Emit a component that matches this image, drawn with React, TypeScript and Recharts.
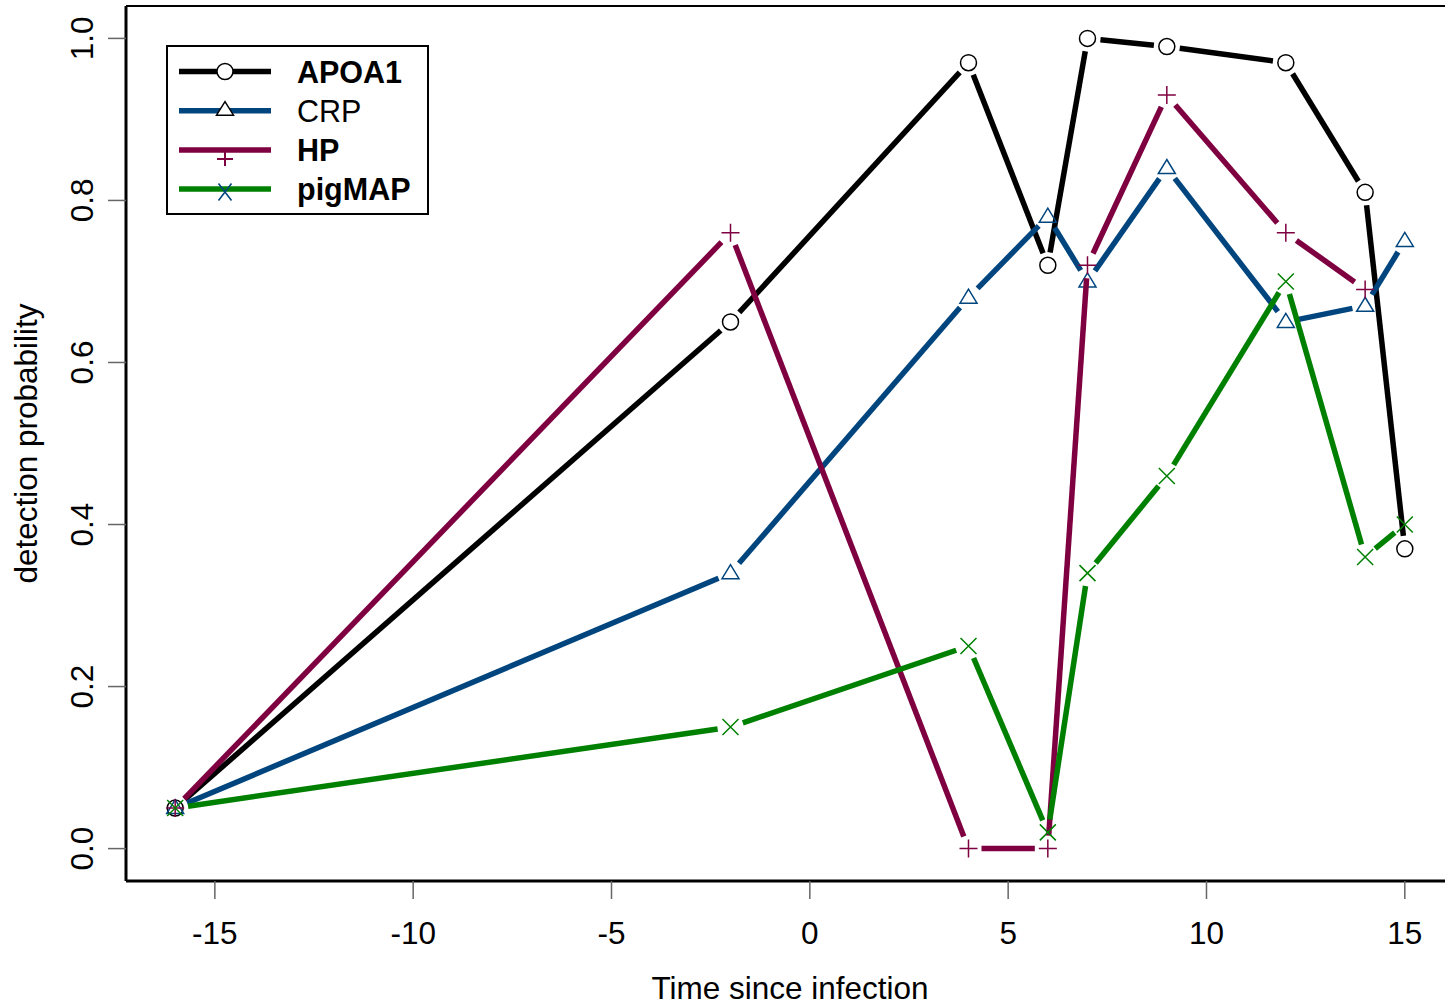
import React from 'react';
import { LineChart, Line, XAxis, YAxis, ReferenceLine } from 'recharts';

// ---- data ----
const times = [-16, -2, 4, 6, 7, 9, 12, 14, 15];
const apoa1 = [0.05, 0.65, 0.97, 0.72, 1.0, 0.99, 0.97, 0.81, 0.37];
const crp = [0.05, 0.34, 0.68, 0.78, 0.7, 0.84, 0.65, 0.67, 0.75];
const hp: (number | null)[] = [0.05, 0.76, 0.0, 0.0, 0.72, 0.93, 0.76, 0.69, null];
const pigmap = [0.05, 0.15, 0.25, 0.02, 0.34, 0.46, 0.7, 0.36, 0.4];

const xTicks = [-15, -10, -5, 0, 5, 10, 15];
const yTicks = [0, 0.2, 0.4, 0.6, 0.8, 1.0];
const xDomain = [-17.24, 16.24];
const yDomain = [-0.04, 1.04];

const seriesNames = ['APOA1', 'CRP', 'HP', 'pigMAP'];
const seriesValues = [apoa1, crp, hp, pigmap];
const seriesColors = ['#000000', '#00457e', '#7f0040', '#008000'];
const seriesMarkers = ['circle', 'triangle', 'plus', 'cross'];
const seriesBold = [true, false, true, true];

const xLabel = 'Time since infection';
const yLabel = 'detection probability';

const data = times.map((t, i) => {
  const row: any = { t };
  seriesNames.forEach((n, k) => {
    row[n] = seriesValues[k][i];
  });
  return row;
});

const FONT = '"Liberation Sans", Arial, Helvetica, sans-serif';
const FS = 31.5;
const LFS = 30.5;
const GAP = 13;
const LW = 5.5;

function Marker({ type, x, y, color, fill = 'none', sw = 1.5 }: any) {
  if (type === 'circle') return <circle cx={x} cy={y} r={8} fill={fill} stroke={color} strokeWidth={sw} />;
  if (type === 'triangle')
    return (
      <polygon
        points={`${x},${y - 8.5} ${x - 8.5},${y + 5.5} ${x + 8.5},${y + 5.5}`}
        fill={fill}
        stroke={color}
        strokeWidth={sw}
      />
    );
  if (type === 'plus')
    return <path d={`M${x - 9},${y}H${x + 9}M${x},${y - 9}V${y + 9}`} stroke={color} strokeWidth={sw} fill="none" />;
  return (
    <path
      d={`M${x - 8},${y - 8}L${x + 8},${y + 8}M${x - 8},${y + 8}L${x + 8},${y - 8}`}
      stroke={color}
      strokeWidth={sw}
      fill="none"
    />
  );
}

const cache: Record<string, ({ x: number; y: number } | null)[]> = {};

function makeDot(k: number) {
  const name = seriesNames[k];
  const vals = seriesValues[k];
  let lastIdx = 0;
  vals.forEach((v, i) => {
    if (v !== null && v !== undefined) lastIdx = i;
  });
  return (props: any) => {
    const { cx, cy, index } = props;
    if (index === 0 || !cache[name]) cache[name] = [];
    const valid =
      typeof cx === 'number' && typeof cy === 'number' && isFinite(cx) && isFinite(cy) && vals[index] != null;
    cache[name][index] = valid ? { x: cx, y: cy } : null;
    if (index !== lastIdx) return <g key={`d-${name}-${index}`} />;
    let pts: ({ x: number; y: number } | null)[] = cache[name];
    if (Array.isArray(props.points) && props.points.length === vals.length) {
      pts = props.points.map((p: any, i: number) =>
        vals[i] != null && p && typeof p.y === 'number' && isFinite(p.y) ? { x: p.x, y: p.y } : null
      );
    }
    const segs: any[] = [];
    for (let i = 0; i < pts.length - 1; i++) {
      const a = pts[i];
      const b = pts[i + 1];
      if (!a || !b) continue;
      const dx = b.x - a.x;
      const dy = b.y - a.y;
      const len = Math.sqrt(dx * dx + dy * dy);
      if (len <= 2 * GAP) continue;
      const ux = dx / len;
      const uy = dy / len;
      segs.push(
        <line
          key={`s-${i}`}
          x1={a.x + ux * GAP}
          y1={a.y + uy * GAP}
          x2={b.x - ux * GAP}
          y2={b.y - uy * GAP}
          stroke={seriesColors[k]}
          strokeWidth={LW}
          strokeLinecap="butt"
        />
      );
    }
    const marks = pts.map((p, i) =>
      p ? <Marker key={`m-${i}`} type={seriesMarkers[k]} x={p.x} y={p.y} color={seriesColors[k]} /> : null
    );
    return (
      <g key={`d-${name}-${index}`}>
        {segs}
        {marks}
      </g>
    );
  };
}

const dots = seriesNames.map((_, k) => makeDot(k));

const XTick = (props: any) => {
  const { x, y, payload } = props;
  return (
    <text x={x} y={y + 43} textAnchor="middle" fontFamily={FONT} fontSize={FS} fill="#000">
      {String(payload.value)}
    </text>
  );
};

const YTick = (props: any) => {
  const { x, y, payload } = props;
  const tx = x - 13;
  return (
    <text
      x={tx}
      y={y}
      textAnchor="middle"
      transform={`rotate(-90 ${tx} ${y})`}
      fontFamily={FONT}
      fontSize={FS}
      fill="#000"
    >
      {Number(payload.value).toFixed(1)}
    </text>
  );
};

const XTitle = (props: any) => {
  const vb = props.viewBox || { x: 126, y: 881, width: 1328, height: 124 };
  return (
    <text x={vb.x + vb.width / 2} y={vb.y + 118} textAnchor="middle" fontFamily={FONT} fontSize={FS} fill="#000">
      {xLabel}
    </text>
  );
};

const YTitle = (props: any) => {
  const vb = props.viewBox || { x: 0, y: 6, width: 126, height: 875 };
  const cx = vb.x + 37;
  const cy = vb.y + vb.height / 2;
  return (
    <text
      x={cx}
      y={cy}
      textAnchor="middle"
      transform={`rotate(-90 ${cx} ${cy})`}
      fontFamily={FONT}
      fontSize={FS}
      fill="#000"
    >
      {yLabel}
    </text>
  );
};

const LegendBox = () => (
  <svg width={264} height={172} style={{ display: 'block', overflow: 'visible' }}>
    <rect x={1} y={1} width={261} height={168} fill="#fff" stroke="#000" strokeWidth={2} />
    {seriesNames.map((name, i) => {
      const ry = 26.5 + i * 39.2;
      let marker: any;
      if (seriesMarkers[i] === 'circle') marker = <Marker type="circle" x={59} y={ry} color="#000" fill="#fff" />;
      else if (seriesMarkers[i] === 'triangle')
        marker = (
          <polygon points={`59,${ry - 9} ${50.5},${ry + 4.5} ${67.5},${ry + 4.5}`} fill="#fff" stroke="#000" strokeWidth={1.5} />
        );
      else if (seriesMarkers[i] === 'plus')
        marker = <path d={`M51,${ry + 9}H67M59,${ry + 2}V${ry + 16}`} stroke={seriesColors[i]} strokeWidth={2} fill="none" />;
      else
        marker = (
          <path
            d={`M52.5,${ry - 5.5}L65.5,${ry + 11.5}M52.5,${ry + 11.5}L65.5,${ry - 5.5}`}
            stroke={seriesColors[1]}
            strokeWidth={1.6}
            fill="none"
          />
        );
      return (
        <g key={name}>
          <line x1={13} y1={ry} x2={105} y2={ry} stroke={seriesColors[i]} strokeWidth={LW} />
          {marker}
          <text
            x={131}
            y={ry + 11}
            fontFamily={FONT}
            fontSize={LFS}
            fontWeight={seriesBold[i] ? 'bold' : 'normal'}
            fill="#000"
          >
            {name}
          </text>
        </g>
      );
    })}
  </svg>
);

export default function App() {
  return (
    <div
      style={{
        position: 'absolute',
        left: 0,
        top: 0,
        width: 1445,
        height: 1005,
        overflow: 'hidden',
        background: '#fff',
      }}
    >
      <LineChart width={1460} height={1005} data={data} margin={{ top: 6, right: 6, bottom: 0, left: 0 }}>
        <XAxis
          dataKey="t"
          type="number"
          domain={xDomain}
          allowDataOverflow
          ticks={xTicks}
          height={124}
          tickSize={18}
          axisLine={{ stroke: '#000', strokeWidth: 3 }}
          tickLine={{ stroke: '#666', strokeWidth: 1.5 }}
          tick={<XTick />}
          label={<XTitle />}
        />
        <YAxis
          type="number"
          domain={yDomain}
          allowDataOverflow
          ticks={yTicks}
          width={126}
          tickSize={18}
          axisLine={{ stroke: '#000', strokeWidth: 3 }}
          tickLine={{ stroke: '#666', strokeWidth: 1.5 }}
          tick={<YTick />}
          label={<YTitle />}
        />
        <ReferenceLine y={yDomain[1]} stroke="#000" strokeWidth={2} ifOverflow="visible" />
        {seriesNames.map((name, k) => (
          <Line
            key={name}
            dataKey={name}
            stroke="none"
            dot={dots[k]}
            activeDot={false}
            connectNulls={false}
            isAnimationActive={false}
          />
        ))}
      </LineChart>
      <div style={{ position: 'absolute', left: 166, top: 45 }}>
        <LegendBox />
      </div>
    </div>
  );
}
